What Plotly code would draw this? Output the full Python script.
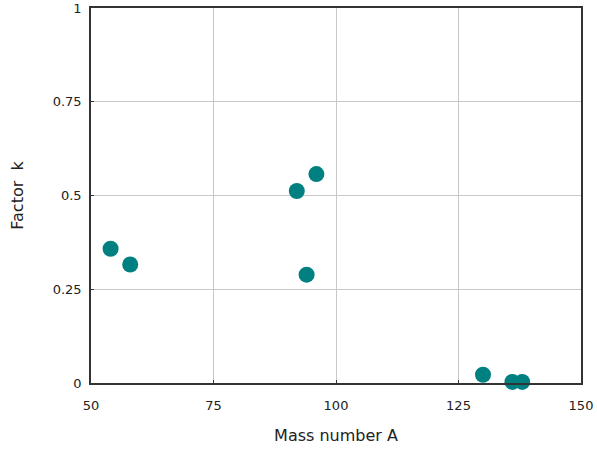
import plotly.graph_objects as go

mass_number = [54, 58, 92, 94, 96, 130, 136, 138]
factor_k = [0.358, 0.316, 0.512, 0.289, 0.557, 0.022, 0.003, 0.003]

x_ticks = [50, 75, 100, 125, 150]
y_ticks = [0, 0.25, 0.5, 0.75, 1]
y_tick_labels = ["0", "0.25", "0.5", "0.75", "1"]

fig = go.Figure(go.Scatter(
    x=mass_number, y=factor_k, mode="markers",
    marker=dict(color="#008080", size=16, line=dict(width=0)),
    cliponaxis=False,
))

axis_common = dict(
    showline=True, linecolor="#333333", linewidth=1.5, mirror=True,
    showgrid=True, gridcolor="#c8c8c8", gridwidth=1.2,
    ticks="inside", ticklen=3, tickcolor="#333333",
    zeroline=False, automargin=False,
    tickfont=dict(family="DejaVu Sans", size=13, color="#222222"),
)

fig.update_layout(
    width=597, height=449,
    margin=dict(l=91, r=16, t=8, b=66),
    paper_bgcolor="white", plot_bgcolor="white",
    showlegend=False,
    font=dict(family="DejaVu Sans", size=13, color="#222222"),
    xaxis=dict(range=[50, 150], tickvals=x_ticks, ticklabelstandoff=10,
               title=dict(text="Mass number A", standoff=17), **axis_common),
    yaxis=dict(range=[0, 1], tickvals=y_ticks, ticktext=y_tick_labels,
               ticklabelstandoff=5,
               title=dict(text="Factor  k", standoff=25), **axis_common),
)

fig.write_html(
    "out.html",
    config={"displayModeBar": False},
    post_script="document.body.style.margin='0';document.body.style.overflow='hidden';",
)
